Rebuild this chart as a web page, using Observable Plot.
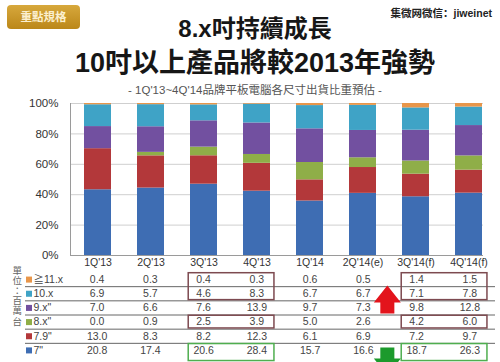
<!DOCTYPE html>
<html>
<head>
<meta charset="utf-8">
<script src="https://cdn.jsdelivr.net/npm/d3@7"></script>
<script src="https://cdn.jsdelivr.net/npm/@observablehq/plot@0.6"></script>
<style>
  html, body { margin: 0; padding: 0; background: #fff; }
  #root { position: relative; width: 500px; height: 362px; overflow: hidden; background: #fff;
          font-family: "Liberation Sans", "Noto Sans CJK TC", sans-serif; }
  .abs { position: absolute; white-space: nowrap; }
  #badge { left: 7px; top: 5px; width: 73px; height: 24px; border-radius: 4px;
           background: linear-gradient(#d7a83c, #bb8719); color: #fbefcf; font-size: 11.5px;
           font-weight: bold; line-height: 24px; text-align: center; }
  #src { right: 8px; top: 6px; font-size: 10.5px; line-height: 14px; color: #222; font-weight: bold;
         font-family: "Liberation Sans", "Noto Sans CJK SC", sans-serif; }
  .title { left: 0; width: 510px; text-align: center; font-weight: bold; color: #161616; }
  #t1 { top: 17px; font-size: 24px; line-height: 24px; }
  #t2 { top: 50px; font-size: 27px; line-height: 27px; }
  #sub { top: 83px; font-size: 11.5px; line-height: 14px; color: #555; }
  #chart, #table { position: absolute; left: 0; }
  #chart { top: 95px; }
  #table { top: 262px; }
</style>
</head>
<body>
<div id="root">
  <div id="badge" class="abs">重點規格</div>
  <div id="src" class="abs">集微网微信：jiweinet</div>
  <div id="t1" class="abs title">8.x吋持續成長</div>
  <div id="t2" class="abs title">10吋以上產品將較2013年強勢</div>
  <div id="sub" class="abs title" style="font-weight:normal;">- 1Q'13~4Q'14品牌平板電腦各尺寸出貨比重預估 -</div>
  <div id="chart"></div>
  <div id="table"></div>
</div>
<script>
// ---- data ----
const quarters = ["1Q'13", "2Q'13", "3Q'13", "4Q'13", "1Q'14", "2Q'14(e)", "3Q'14(f)", "4Q'14(f)"];
const sizes = ["7\"", "7.9\"", "8.x\"", "9.x\"", "10.x", "≧11.x"]; // bottom to top
const s7   = [20.8, 17.4, 20.6, 28.4, 15.7, 16.6, 18.7, 26.3];
const s79  = [13.0, 8.3, 8.2, 12.3, 6.1, 6.9, 7.2, 9.7];
const s8x  = [0.0, 0.9, 2.5, 3.9, 5.0, 2.6, 4.2, 6.0];
const s9x  = [7.0, 6.6, 7.6, 13.9, 9.7, 7.3, 9.8, 12.8];
const s10x = [6.9, 5.7, 4.6, 8.3, 6.7, 6.7, 7.1, 7.8];
const s11x = [0.4, 0.3, 0.4, 0.3, 0.6, 0.5, 1.4, 1.5];
const yTicks = [0, 0.2, 0.4, 0.6, 0.8, 1.0];
const unitChars = ["單", "位", "：", "百", "萬", "台"];

// highlight boxes in the table (quarter range, size rows, colour key)
const boxes = [
  {q1: "3Q'13", q2: "4Q'13", r1: "≧11.x", r2: "10.x", kind: "up"},
  {q1: "3Q'13", q2: "4Q'13", r1: "8.x\"", r2: "8.x\"", kind: "up"},
  {q1: "3Q'13", q2: "4Q'13", r1: "7\"", r2: "7\"", kind: "down"},
  {q1: "3Q'14(f)", q2: "4Q'14(f)", r1: "≧11.x", r2: "10.x", kind: "up"},
  {q1: "3Q'14(f)", q2: "4Q'14(f)", r1: "8.x\"", r2: "8.x\"", kind: "up"},
  {q1: "3Q'14(f)", q2: "4Q'14(f)", r1: "7\"", r2: "7\"", kind: "down"}
];

// ---- styles ----
const colors = ["#3e6db3", "#b3383a", "#8fae48", "#7250a0", "#3fa3c6", "#e8964a"];
const font = "'Liberation Sans', 'Noto Sans CJK TC', sans-serif";

const series = [s7, s79, s8x, s9x, s10x, s11x];
const stackData = sizes.flatMap((s, si) => quarters.map((q, qi) => ({quarter: q, size: s, value: series[si][qi]})));

const chart = Plot.plot({
  width: 500, height: 170,
  marginTop: 8, marginBottom: 10, marginLeft: 70, marginRight: 17,
  style: {background: "transparent", overflow: "visible", fontFamily: font, fontSize: "10.5px"},
  x: {type: "band", domain: quarters, range: [70, 496], paddingInner: 0.493, paddingOuter: 0.2465, axis: null},
  y: {domain: [0, 1], axis: null},
  color: {domain: sizes, range: colors},
  marks: [
    Plot.ruleY(yTicks.filter(d => d > 0), {stroke: "#cfcfcf"}),
    Plot.barY(stackData, {x: "quarter", y: "value", fill: "size", offset: "normalize", order: sizes}),
    Plot.ruleY([0], {stroke: "#9a9a9a"}),
    Plot.frame({anchor: "left", stroke: "#9a9a9a"}),
    Plot.axisX({tickSize: 0, tickPadding: 3, fontSize: 10.5, color: "#333", label: null}),
    Plot.axisY({ticks: yTicks, tickFormat: d3.format(".0%"), tickSize: 0, tickPadding: 12, fontSize: 11.5, color: "#333", label: null})
  ]
});
document.getElementById("chart").appendChild(chart);

// table: rows top to bottom
const rowsTop = sizes.slice().reverse();
const rowIndex = s => rowsTop.indexOf(s);
const qIndex = q => quarters.indexOf(q);
const cells = sizes.flatMap((s, si) => quarters.map((q, qi) => ({qi, ri: rowIndex(s), v: series[si][qi]})));
const last = rowsTop.length - 1;
const boxData = boxes.map(b => ({
  x1: qIndex(b.q1) - 0.28, x2: qIndex(b.q2) + 0.33,
  y1: rowIndex(b.r1) - 0.45, y2: rowIndex(b.r2) + (rowIndex(b.r2) === last ? 0.75 : 0.45),
  stroke: b.kind === "up" ? "#7d4a50" : "#4fae4f"
}));

const arrowSymbol = {
  draw(ctx, size) {
    const r = Math.sqrt(size / Math.PI);
    ctx.moveTo(0, -1.04 * r);
    ctx.lineTo(r, 0.22 * r);
    ctx.lineTo(0.52 * r, 0.22 * r);
    ctx.lineTo(0.52 * r, 1.04 * r);
    ctx.lineTo(-0.52 * r, 1.04 * r);
    ctx.lineTo(-0.52 * r, 0.22 * r);
    ctx.lineTo(-r, 0.22 * r);
    ctx.closePath();
  }
};
const arrows = [
  {x: qIndex("2Q'14(e)") + 0.45, y: rowIndex("10.x") + 0.41, fill: "#e3141c", rotate: 0},
  {x: qIndex("2Q'14(e)") + 0.45, y: rowIndex("7\"") + 0.78, fill: "#1c9a2c", rotate: 180}
];

const table = Plot.plot({
  width: 500, height: 100,
  marginTop: 0, marginBottom: 0, marginLeft: 25, marginRight: 5,
  style: {background: "transparent", overflow: "visible", fontFamily: font, fontSize: "10.5px"},
  x: {type: "linear", domain: [-0.5, 7.5], range: [70, 496], axis: null},
  y: {type: "linear", domain: [-0.5, 5.5], range: [10, 95], axis: null},
  marks: [
    Plot.ruleY(d3.range(last).map(i => i + 0.5), {stroke: "#666", strokeWidth: 1}),
    Plot.text(cells, {x: "qi", y: "ri", text: d => d.v.toFixed(1), fontSize: 10.5, fill: "#444"}),
    Plot.dot(rowsTop, {y: (d, i) => i, frameAnchor: "left", dx: 3.5, symbol: "square", r: 3.4,
      fill: d => colors[sizes.indexOf(d)], stroke: null}),
    Plot.text(rowsTop, {y: (d, i) => i, frameAnchor: "left", dx: 8, textAnchor: "start", text: d => d,
      fontSize: 10.5, fill: "#444"}),
    // vertical unit label: one character per line, stacked down the left edge
    Plot.text(unitChars, {y: (d, i) => -0.64 + i * 0.72, frameAnchor: "left", dx: -13, text: d => d,
      fontSize: 9.5, fill: "#666"}),
    Plot.rect(boxData, {x1: "x1", x2: "x2", y1: "y1", y2: "y2", stroke: "stroke", fill: "none", strokeWidth: 1.5}),
    Plot.dot(arrows, {x: "x", y: "y", fill: "fill", rotate: "rotate", symbol: arrowSymbol, r: 13.5, stroke: null})
  ]
});
document.getElementById("table").appendChild(table);
</script>
</body>
</html>
